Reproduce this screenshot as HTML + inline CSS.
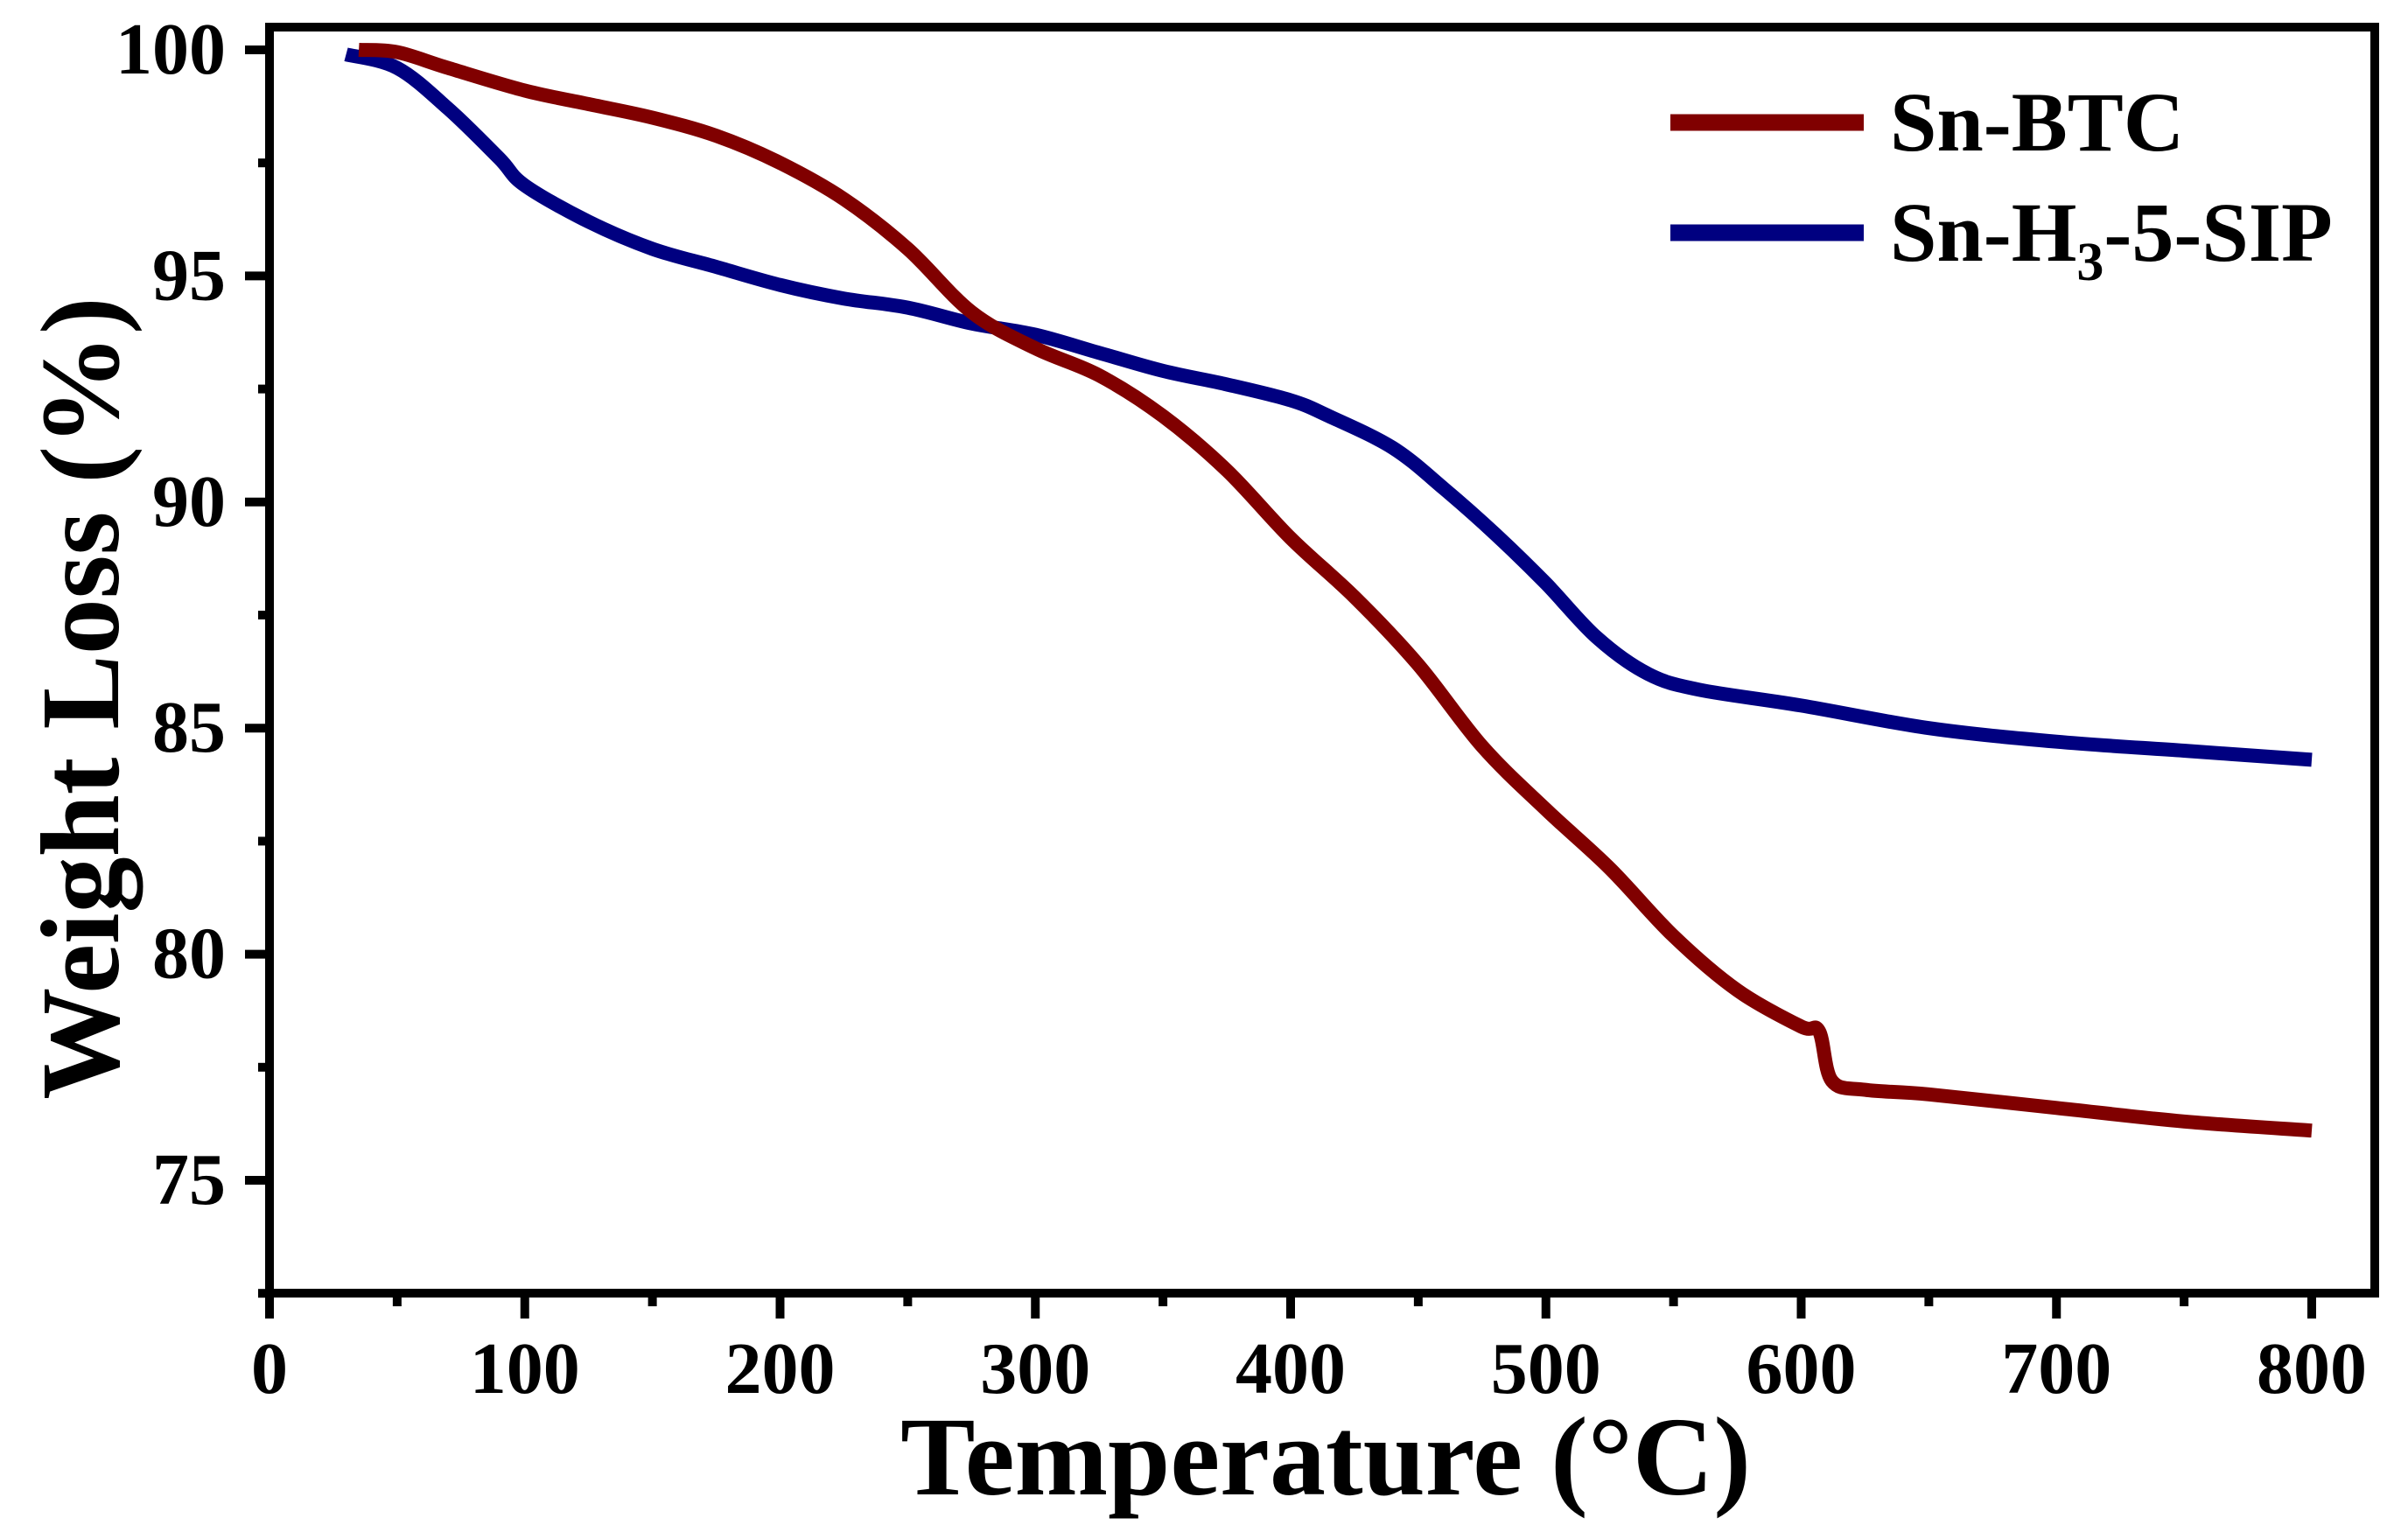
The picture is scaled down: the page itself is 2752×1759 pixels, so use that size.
<!DOCTYPE html>
<html><head><meta charset="utf-8"><style>
html,body{margin:0;padding:0;background:#fff;}
svg{display:block;}
text{font-family:"Liberation Serif","Times New Roman",Times,serif;font-weight:bold;fill:#000;}
</style></head>
<body>
<svg id="chart" width="2752" height="1759" viewBox="0 0 2752 1759" xmlns="http://www.w3.org/2000/svg">
<g id="plot"></g>
<text x="1515" y="1708" font-size="128" text-anchor="middle">Temperature (°C)</text>
<text transform="translate(135,798) rotate(-90)" font-size="128" text-anchor="middle">Weight Loss (%)</text>
<g>
<line x1="1909" y1="140" x2="2130" y2="140" stroke="#800000" stroke-width="19"/>
<text x="2160" y="172" font-size="96">Sn-BTC</text>
<line x1="1909" y1="266" x2="2130" y2="266" stroke="#000080" stroke-width="19"/>
<text x="2160" y="298" font-size="96">Sn-H<tspan font-size="62" dy="22">3</tspan><tspan dy="-22">-5-SIP</tspan></text>
</g>
</svg>
<script>
const btcTemp = [35,50,70,100,125,150,175,200,225,250,275,300,325,350,375,400,425,450,475,500,525,550,575,600,607,612,625,650,700,750,800];
const btcWeight = [100,99.95,99.6,99.1,98.8,98.5,98.1,97.5,96.7,95.6,94.2,93.4,92.8,91.9,90.7,89.2,87.9,86.4,84.6,83.2,81.9,80.4,79.2,78.4,78.3,77.2,77.0,76.9,76.6,76.3,76.1];
const sipTemp = [30,50,70,90,100,125,150,175,200,225,250,275,300,325,350,375,400,415,440,460,480,500,520,540,560,600,650,700,750,800];
const sipWeight = [99.9,99.6,98.7,97.6,97.0,96.2,95.6,95.2,94.8,94.5,94.3,93.95,93.7,93.3,92.9,92.6,92.25,91.9,91.2,90.3,89.3,88.2,87.0,86.2,85.85,85.5,85.0,84.7,84.5,84.3];
const xTicks = [0,100,200,300,400,500,600,700,800];
const yTicks = [75,80,85,90,95,100];

const NS = "http://www.w3.org/2000/svg";
const X0 = 308, XK = 2.9175;
const Y0 = 57, YK = 51.68;
const xs = v => X0 + v * XK;
const ys = v => Y0 + (100 - v) * YK;
const L = 308, R = 2714, T = 31, B = 1478;
const g = document.getElementById('plot');
function mk(tag, attrs){const e=document.createElementNS(NS,tag);for(const k in attrs)e.setAttribute(k,attrs[k]);g.appendChild(e);return e;}

function series(tx, wy, color, name){
  const P = tx.map((t,i)=>[xs(t), ys(wy[i])]);
  let d = 'M' + P[0][0].toFixed(1) + ',' + P[0][1].toFixed(1);
  for(let i=0;i<P.length-1;i++){
    const p0 = P[Math.max(0,i-1)], p1 = P[i], p2 = P[i+1], p3 = P[Math.min(P.length-1,i+2)];
    const c1 = [p1[0]+(p2[0]-p0[0])/6, p1[1]+(p2[1]-p0[1])/6];
    const c2 = [p2[0]-(p3[0]-p1[0])/6, p2[1]-(p3[1]-p1[1])/6];
    d += 'C' + c1[0].toFixed(1)+','+c1[1].toFixed(1)+' '+c2[0].toFixed(1)+','+c2[1].toFixed(1)+' '+p2[0].toFixed(1)+','+p2[1].toFixed(1);
  }
  const p = mk('path',{d:d,fill:'none',stroke:color,'stroke-width':16,'stroke-linejoin':'round','stroke-linecap':'butt'});
  
  
}
series(sipTemp, sipWeight, '#000080', 'sn-h3-5-sip-line');
series(btcTemp, btcWeight, '#800000', 'sn-btc-line');

const frame = mk('rect',{x:L,y:T,width:R-L,height:B-T,fill:'none',stroke:'#000','stroke-width':10});



xTicks.forEach((v,i)=>{
  const x = xs(v);
  const t = mk('line',{x1:x,y1:B,x2:x,y2:1507,stroke:'#000','stroke-width':10});
  
  
  if(i < xTicks.length-1){
    const xm = xs(v+50);
    const m = mk('line',{x1:xm,y1:B,x2:xm,y2:1493,stroke:'#000','stroke-width':10});
    
    
  }
  const lb = mk('text',{x:x,y:1592,'font-size':84,'text-anchor':'middle'});
  lb.textContent = v;
  
  
});
yTicks.forEach((v,i)=>{
  const y = ys(v);
  const t = mk('line',{x1:280,y1:y,x2:L,y2:y,stroke:'#000','stroke-width':10});
  
  
  const ym = ys(v-2.5);
  const m = mk('line',{x1:295,y1:ym,x2:L,y2:ym,stroke:'#000','stroke-width':10});
  
  
  const lb = mk('text',{x:258,y:y+27,'font-size':84,'text-anchor':'end'});
  lb.textContent = v;
  
  
});
</script>
</body></html>
